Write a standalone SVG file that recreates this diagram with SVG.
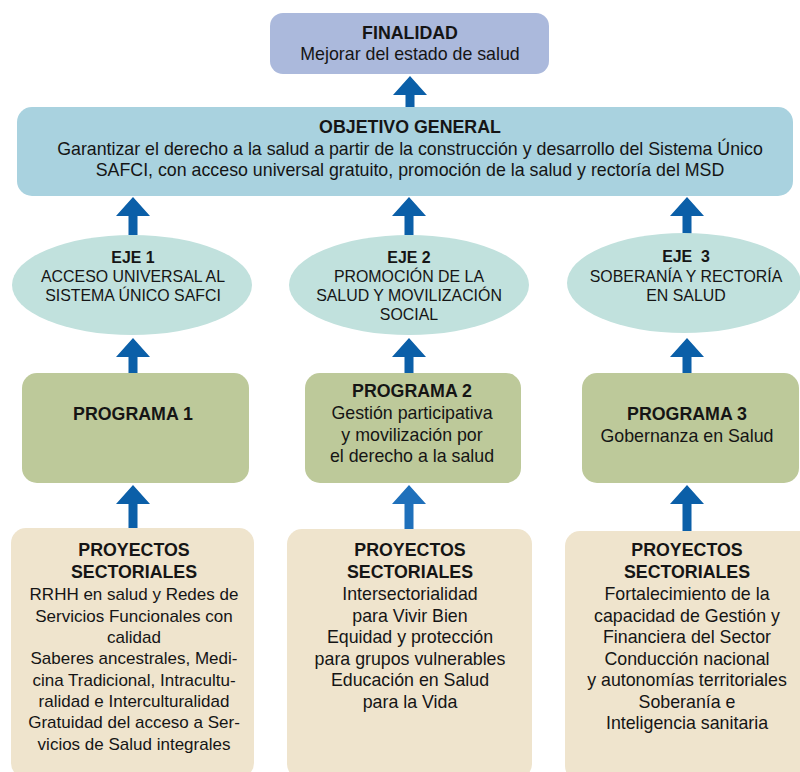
<svg xmlns="http://www.w3.org/2000/svg" width="800" height="772" viewBox="0 0 800 772">
<style>
text{font-family:"Liberation Sans",Arial,sans-serif;fill:#151515;text-anchor:middle}
.b{font-weight:bold}
.t16{font-size:17.8px}
.t17{font-size:17px}
.t14{font-size:15.9px}
.fin{fill:#abb9dc}
.obj{fill:#a9d2df}
.eje{fill:#c1e1dd}
.prog{fill:#bdc99a}
.proy{fill:#efe4cd}
.arr{fill:#0b5fa8}
.arr2{fill:#1f70bb}
</style>
<rect width="800" height="772" fill="#fff"/>
<g id="connectors">
<path class="arr" d="M393,95 L410,76 L427,95 L414.5,95 L414.5,108 L405.5,108 L405.5,95 Z"/>
<path class="arr" d="M116,216 L133,197 L150,216 L137.5,216 L137.5,235 L128.5,235 L128.5,216 Z"/>
<path class="arr" d="M392,216 L409,197 L426,216 L413.5,216 L413.5,235 L404.5,235 L404.5,216 Z"/>
<path class="arr" d="M670,216 L687,197 L704,216 L691.5,216 L691.5,234 L682.5,234 L682.5,216 Z"/>
<path class="arr" d="M116,357 L133,338 L150,357 L137.5,357 L137.5,374 L128.5,374 L128.5,357 Z"/>
<path class="arr" d="M392,357 L409,338 L426,357 L413.5,357 L413.5,374 L404.5,374 L404.5,357 Z"/>
<path class="arr" d="M670,357 L687,338 L704,357 L691.5,357 L691.5,374 L682.5,374 L682.5,357 Z"/>
<path class="arr" d="M116,504 L133,485 L150,504 L137.5,504 L137.5,529 L128.5,529 L128.5,504 Z"/>
<path class="arr2" d="M392,504 L409,485 L426,504 L413.5,504 L413.5,529 L404.5,529 L404.5,504 Z"/>
<path class="arr" d="M670,504 L687,485 L704,504 L691.5,504 L691.5,531 L682.5,531 L682.5,504 Z"/>
</g>
<g id="finalidad">
<rect class="fin" x="270" y="13" width="279" height="61" rx="13"/>
<text class="b t16" x="410" y="39">FINALIDAD</text>
<text class="t16" x="410" y="60">Mejorar del estado de salud</text>
</g>
<g id="objetivo">
<rect class="obj" x="17" y="107" width="776" height="89" rx="15"/>
<text class="b t16" x="410" y="133">OBJETIVO GENERAL</text>
<text class="t16" x="410" y="155">Garantizar el derecho a la salud a partir de la construcción y desarrollo del Sistema Único</text>
<text class="t16" x="410" y="176">SAFCI, con acceso universal gratuito, promoción de la salud y rectoría del MSD</text>
</g>
<g id="eje1">
<ellipse class="eje" cx="132" cy="285" rx="120" ry="50"/>
<text class="b t14" x="133" y="263">EJE 1</text>
<text class="t14" x="133" y="282">ACCESO UNIVERSAL AL</text>
<text class="t14" x="133" y="301">SISTEMA ÚNICO SAFCI</text>
</g>
<g id="eje2">
<ellipse class="eje" cx="409" cy="285" rx="120" ry="50"/>
<text class="b t14" x="409" y="263">EJE 2</text>
<text class="t14" x="409" y="282">PROMOCIÓN DE LA</text>
<text class="t14" x="409" y="301">SALUD Y MOVILIZACIÓN</text>
<text class="t14" x="409" y="320">SOCIAL</text>
</g>
<g id="eje3">
<ellipse class="eje" cx="684" cy="283" rx="117" ry="50"/>
<text class="b t14" x="686" y="262" xml:space="preserve">EJE  3</text>
<text class="t14" x="686" y="282">SOBERANÍA Y RECTORÍA</text>
<text class="t14" x="686" y="301">EN SALUD</text>
</g>
<g id="programa1">
<rect class="prog" x="22" y="373" width="227" height="110" rx="15"/>
<text class="b t16" x="133" y="420">PROGRAMA 1</text>
</g>
<g id="programa2">
<rect class="prog" x="305" y="373" width="216" height="110" rx="15"/>
<text class="b t16" x="412" y="397">PROGRAMA 2</text>
<text class="t16" x="412" y="419">Gestión participativa</text>
<text class="t16" x="412" y="441">y movilización por</text>
<text class="t16" x="412" y="462">el derecho a la salud</text>
</g>
<g id="programa3">
<rect class="prog" x="582" y="373" width="217" height="110" rx="15"/>
<text class="b t16" x="687" y="420">PROGRAMA 3</text>
<text class="t16" x="687" y="442">Gobernanza en Salud</text>
</g>
<g id="proyectos1">
<rect class="proy" x="11" y="528" width="243" height="250" rx="15"/>
<text class="b t16" x="134" y="556">PROYECTOS</text>
<text class="b t16" x="134" y="578">SECTORIALES</text>
<text class="t17" x="134" y="600">RRHH en salud y Redes de</text>
<text class="t17" x="134" y="622">Servicios Funcionales con</text>
<text class="t17" x="134" y="643">calidad</text>
<text class="t17" x="134" y="664">Saberes ancestrales, Medi-</text>
<text class="t17" x="134" y="686">cina Tradicional, Intracultu-</text>
<text class="t17" x="134" y="707">ralidad e Interculturalidad</text>
<text class="t17" x="134" y="728">Gratuidad del acceso a Ser-</text>
<text class="t17" x="134" y="750">vicios de Salud integrales</text>
</g>
<g id="proyectos2">
<rect class="proy" x="287" y="529" width="245" height="250" rx="15"/>
<text class="b t16" x="410" y="556">PROYECTOS</text>
<text class="b t16" x="410" y="578">SECTORIALES</text>
<text class="t16" x="410" y="600">Intersectorialidad</text>
<text class="t16" x="410" y="622">para Vivir Bien</text>
<text class="t16" x="410" y="643">Equidad y protección</text>
<text class="t16" x="410" y="665">para grupos vulnerables</text>
<text class="t16" x="410" y="686">Educación en Salud</text>
<text class="t16" x="410" y="708">para la Vida</text>
</g>
<g id="proyectos3">
<rect class="proy" x="565" y="531" width="250" height="250" rx="15"/>
<text class="b t16" x="687" y="556">PROYECTOS</text>
<text class="b t16" x="687" y="578">SECTORIALES</text>
<text class="t16" x="687" y="600">Fortalecimiento de la</text>
<text class="t16" x="687" y="622">capacidad de Gestión y</text>
<text class="t16" x="687" y="643">Financiera del Sector</text>
<text class="t16" x="687" y="665">Conducción nacional</text>
<text class="t16" x="687" y="686">y autonomías territoriales</text>
<text class="t16" x="687" y="708">Soberanía e</text>
<text class="t16" x="687" y="729">Inteligencia sanitaria</text>
</g>
</svg>
